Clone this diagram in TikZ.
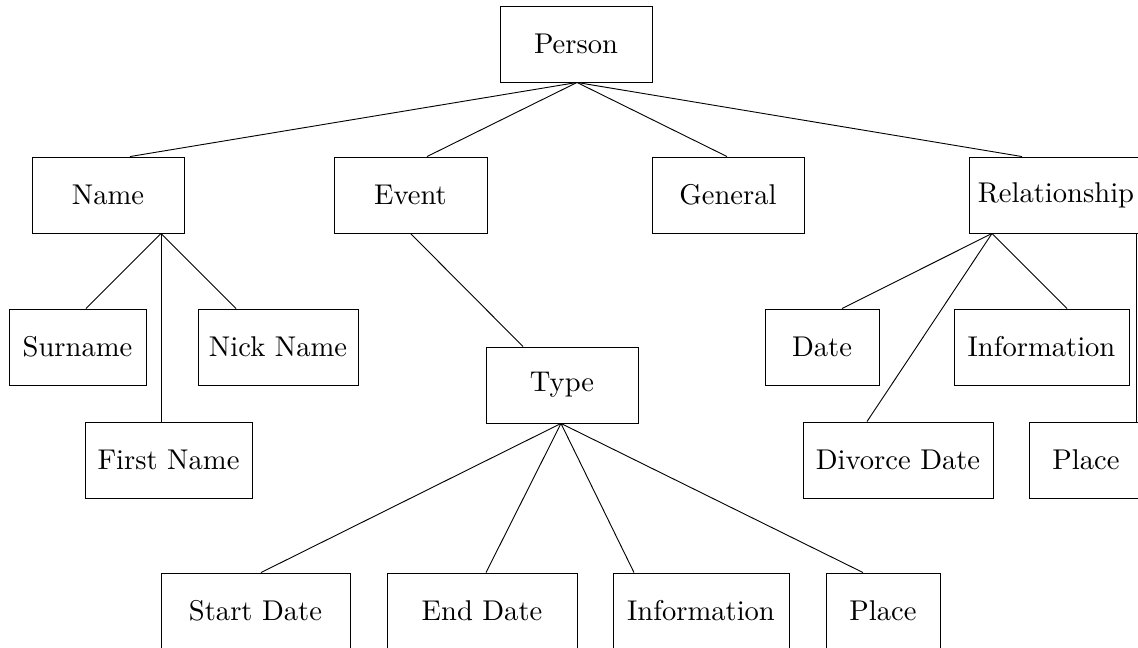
\documentclass[tikz,border=0pt]{standalone}
\usetikzlibrary{calc}
\begin{document}
\begin{tikzpicture}[x=0.35pt, y=-0.35pt,
  box/.style={draw, line width=0.32pt, rectangle, inner sep=0pt, minimum height=26.6pt},
  link/.style={draw, line width=0.32pt}]
\clip (0,0) rectangle (1138,647);

% level 0
\node[box, minimum width=53.2pt]  (person) at (576,44)   {Person};

% level 1
\node[box, minimum width=53.2pt]  (name)   at (108,195)  {Name};
\node[box, minimum width=53.55pt] (event)  at (410.5,195) {Event};
\node[box, minimum width=53.2pt]  (general) at (728,195) {General};
\node[box, minimum width=60.9pt]  (rel)    at (1056,195) {Relationship};

% name parts
\node[box, minimum width=47.95pt] (surname) at (77.5,347) {Surname};
\node[box, minimum width=56pt]    (nick)    at (278,347)  {Nick Name};
\node[box, minimum width=58.45pt] (first)   at (168.5,460) {First Name};

% event parts
\node[box, minimum width=53.2pt]  (type)    at (562,385)  {Type};
\node[box, minimum width=66.15pt] (start)   at (255.5,611) {Start Date};
\node[box, minimum width=66.5pt]  (end)     at (482,611)  {End Date};
\node[box, minimum width=61.6pt]  (einfo)   at (701,611)  {Information};
\node[box, minimum width=39.9pt]  (eplace)  at (883,611)  {Place};

% relationship parts
\node[box, minimum width=39.9pt]  (rdate)   at (822,347)  {Date};
\node[box, minimum width=61.25pt] (rinfo)   at (1041.5,347) {Information};
\node[box, minimum width=66.5pt]  (divorce) at (898,460)  {Divorce Date};
\node[box, minimum width=39.9pt]  (rplace)  at (1086,460) {Place};

% connectors
\draw[link] ($(person.south)+(1,0)$) -- ($(name.north)+(22,0)$);
\draw[link] ($(person.south)+(1,0)$) -- ($(event.north)+(16.5,0)$);
\draw[link] ($(person.south)+(1,0)$) -- ($(general.north)+(-1,0)$);
\draw[link] ($(person.south)+(1,0)$) -- ($(rel.north)+(-34,0)$);

\draw[link] ($(name.south)+(53,0)$) -- ($(surname.north)+(8.5,0)$);
\draw[link] ($(name.south)+(53,0)$) -- ($(nick.north)+(-42,0)$);
\draw[link] ($(name.south)+(53,0)$) -- ($(first.north)+(-7.5,0)$);

\draw[link] (event.south) -- ($(type.north)+(-39,0)$);
\draw[link] ($(type.south)+(-1,0)$) -- ($(start.north)+(5.5,0)$);
\draw[link] ($(type.south)+(-1,0)$) -- ($(end.north)+(4,0)$);
\draw[link] ($(type.south)+(-1,0)$) -- ($(einfo.north)+(-67,0)$);
\draw[link] ($(type.south)+(-1,0)$) -- ($(eplace.north)+(-20,0)$);

\draw[link] ($(rel.south)+(-64,0)$) -- ($(rdate.north)+(20,0)$);
\draw[link] ($(rel.south)+(-64,0)$) -- ($(rinfo.north)+(25.5,0)$);
\draw[link] ($(rel.south)+(-64,0)$) -- ($(divorce.north)+(-31,0)$);
\draw[link] ($(rel.south)+(80,0)$) -- ($(rplace.north)+(50,0)$);
\end{tikzpicture}
\end{document}
